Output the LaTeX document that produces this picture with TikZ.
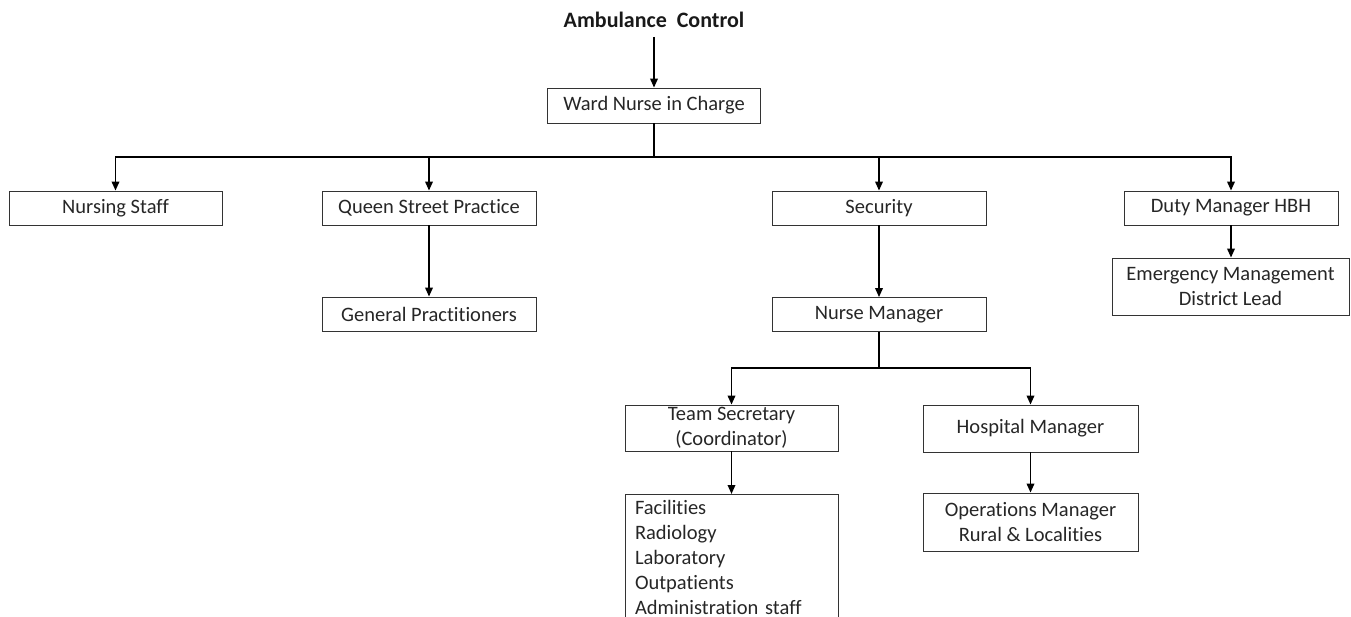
\documentclass[tikz,border=0pt]{standalone}
\usepackage{fontspec}
\setmainfont{Carlito}[Ligatures=NoCommon]
\usetikzlibrary{arrows.meta}
\tikzset{x=1pt, y=-1pt,
box/.style={ % Sets the properties for each box
draw=black!80,
line width=0.8pt,
minimum width=214pt,
minimum height=34pt,
inner sep=2pt,
align=center,
text=black!85,
font=\fontsize{20.5}{25}\selectfont},
arr/.style={ % Connectors ending in a tip
draw,
line width=1.8pt,
-{Triangle[length=9pt,width=7.5pt]}},
link/.style={ % Connectors with no tip
draw,
line width=1.8pt}}

\begin{document}
\begin{tikzpicture}
\useasboundingbox (0,0) rectangle (1351,617);
\node[text=black!90, inner ysep=9pt, font=\fontsize{22}{26}\selectfont\bfseries] (amb) at (654,20) {Ambulance\hspace{0.45em}Control};
\node[box, minimum width=213pt, minimum height=35pt] (ward) at (654,105.5) {Ward Nurse in Charge};
\node[box, minimum width=213pt] (nurse) at (115.5,208) {Nursing Staff};
\node[box] (queen) at (429,208) {Queen Street Practice};
\node[box] (security) at (879,208) {Security};
\node[box] (duty) at (1231,208) {Duty Manager HBH};
\node[box] (gp) at (429,314) {General Practitioners};
\node[box] (nm) at (879,314.5) {Nurse Manager};
\node[box, minimum width=237pt, minimum height=57pt] (emerg) at (1230.5,286.5) {Emergency Management\\District Lead};
\node[box, minimum width=213pt, minimum height=46pt] (team) at (731.5,428) {Team Secretary\\(Coordinator)};
\node[box, minimum width=215pt, minimum height=47pt] (hosp) at (1030.5,428.5) {Hospital Manager};
\node[box, minimum width=213pt, text width=193pt, inner xsep=10pt, inner ysep=5pt, minimum height=126pt, align=left, anchor=north] (fac) at (731.5,494)
{Facilities\\Radiology\\Laboratory\\Outpatients\\Administration staff};
\node[box, minimum width=215pt, minimum height=58pt] (ops) at (1030.5,522) {Operations Manager\\Rural \& Localities};
\coordinate (bus) at (654,157);
\coordinate (nmbus) at (879,368);
\draw[arr] (amb) -- (ward);
\draw[link] (ward) -- (bus);
\draw[arr] (bus) -| (nurse);
\draw[arr] (bus) -| (queen);
\draw[arr] (bus) -| (security);
\draw[arr] (bus) -| (duty);
\draw[arr] (queen) -- (gp);
\draw[arr] (security) -- (nm);
\draw[arr] (duty) -- (duty |- emerg.north);
\draw[link] (nm) -- (nmbus);
\draw[arr] (nmbus) -| (team);
\draw[arr] (nmbus) -| (hosp);
\draw[arr] (team) -- (fac);
\draw[arr] (hosp) -- (ops);
\end{tikzpicture}
\end{document}
